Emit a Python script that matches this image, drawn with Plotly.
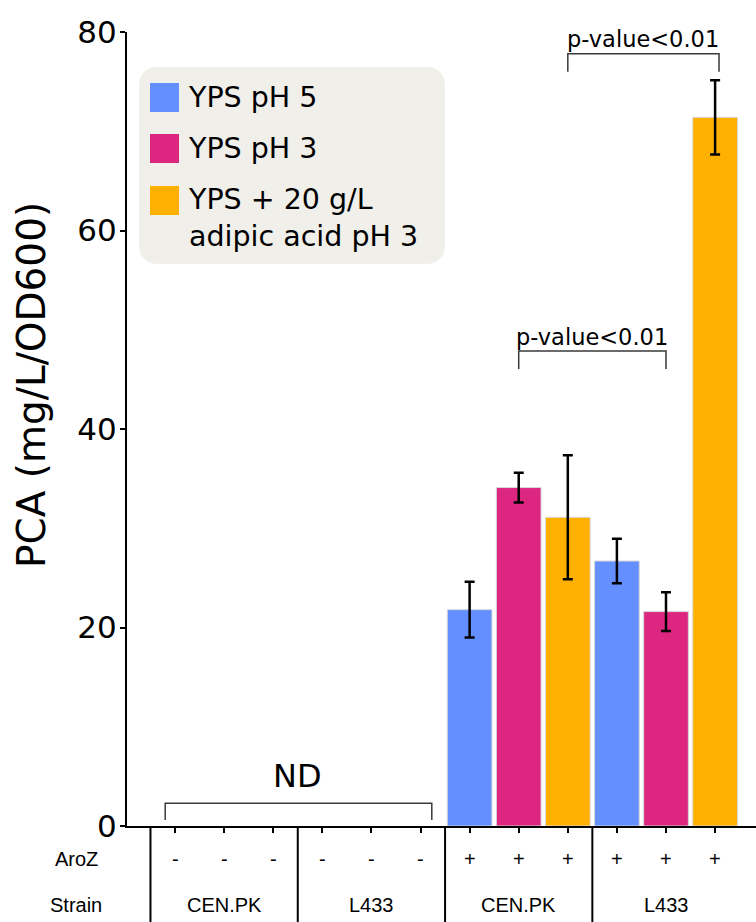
import plotly.graph_objects as go

# ---- data ----
strains = ["CEN.PK", "L433", "CEN.PK", "L433"]
aroz = ["-", "-", "+", "+"]
conditions = ["YPS pH 5", "YPS pH 3", "YPS + 20 g/L adipic acid pH 3"]
legend_labels = ["YPS pH 5", "YPS pH 3", "YPS + 20 g/L<br>adipic acid pH 3"]
colors = ["#648FFF", "#DC267F", "#FFB000"]
# mean PCA per strain group (None = not detected)
pca_ph5 = [None, None, 21.8, 26.7]
pca_ph3 = [None, None, 34.1, 21.6]
pca_adipic = [None, None, 31.1, 71.4]
err_ph5 = [0, 0, 2.8, 2.25]
err_ph3 = [0, 0, 1.5, 1.95]
err_adipic = [0, 0, 6.25, 3.75]
yticks = [0, 20, 40, 60, 80]
y_title = "PCA (mg/L/OD600)"

means = [pca_ph5, pca_ph3, pca_adipic]
errs = [err_ph5, err_ph3, err_adipic]
n_cond = len(conditions)
n_groups = len(strains)

# ---- layout geometry (pixels) ----
W, H = 756, 922
L, T, B, R = 127, 32, 96, 0
PW, PH = W - L - R, H - T - B
X0, X1 = -0.978, 11.833


def px(x):
    return (x - L) / PW


def py(y):
    return (H - B - y) / PH


fig = go.Figure()
for ci in range(n_cond):
    xs = [g * n_cond + ci for g in range(n_groups)]
    fig.add_trace(go.Bar(
        x=xs, y=means[ci], name=conditions[ci], width=0.91,
        marker=dict(color=colors[ci], line=dict(color="rgba(215,215,215,1)", width=1)),
        error_y=dict(type="data", array=errs[ci], color="black", thickness=2.5, width=5),
        showlegend=False,
    ))

shapes = []
annotations = []

# bottom table separators
for g in range(n_groups):
    xv = g * n_cond - 0.5
    shapes.append(dict(type="line", xref="x", yref="paper", x0=xv, x1=xv,
                       y0=0, y1=py(H), line=dict(color="black", width=2)))

tfont = dict(family="Liberation Sans, Arial", size=20, color="black")
annotations.append(dict(xref="paper", yref="paper", x=px(76), y=py(859), text="AroZ",
                        showarrow=False, font=tfont, xanchor="center", yanchor="middle"))
annotations.append(dict(xref="paper", yref="paper", x=px(76), y=py(905), text="Strain",
                        showarrow=False, font=tfont, xanchor="center", yanchor="middle"))
for g in range(n_groups):
    for ci in range(n_cond):
        annotations.append(dict(xref="x", yref="paper", x=g * n_cond + ci, y=py(859),
                                text=aroz[g], showarrow=False, font=tfont,
                                xanchor="center", yanchor="middle"))
    annotations.append(dict(xref="x", yref="paper", x=g * n_cond + 1, y=py(905),
                            text=strains[g], showarrow=False, font=tfont,
                            xanchor="center", yanchor="middle"))

# brackets
bcol = "#3a3a3a"


def bracket(xa, xb, ylo, yhi):
    shapes.append(dict(type="path", xref="x", yref="y",
                       path=f"M {xa},{ylo} L {xa},{yhi} L {xb},{yhi} L {xb},{ylo}",
                       line=dict(color=bcol, width=1.5)))


bracket(-0.2, 5.23, 0.6, 2.3)
annotations.append(dict(xref="x", yref="y", x=2.5, y=5.0, text="ND", showarrow=False,
                        font=dict(family="DejaVu Sans", size=32, color="black"),
                        xanchor="center", yanchor="middle"))
bracket(7, 10, 46.05, 47.86)
annotations.append(dict(xref="x", yref="y", x=8.5, y=49.3, text="p-value<0.01", showarrow=False,
                        font=dict(family="DejaVu Sans", size=22.5, color="black"),
                        xanchor="center", yanchor="middle"))
bracket(8, 11.08, 76.0, 77.8)
annotations.append(dict(xref="x", yref="y", x=9.54, y=79.3, text="p-value<0.01", showarrow=False,
                        font=dict(family="DejaVu Sans", size=22.5, color="black"),
                        xanchor="center", yanchor="middle"))

# y-axis title
annotations.append(dict(xref="paper", yref="paper", x=px(31), y=py(385), text=y_title,
                        textangle=-90, showarrow=False,
                        font=dict(family="DejaVu Sans", size=39, color="black"),
                        xanchor="center", yanchor="middle"))

# legend box (rounded)
bx0, bx1, by0, by1, r = 139, 445, 67, 264, 20
ax0, ax1 = px(bx0), px(bx1)
ay0, ay1 = py(by1), py(by0)
rx, ry = r / PW, r / PH
path = (f"M {ax0+rx},{ay0} L {ax1-rx},{ay0} Q {ax1},{ay0} {ax1},{ay0+ry} "
        f"L {ax1},{ay1-ry} Q {ax1},{ay1} {ax1-rx},{ay1} "
        f"L {ax0+rx},{ay1} Q {ax0},{ay1} {ax0},{ay1-ry} "
        f"L {ax0},{ay0+ry} Q {ax0},{ay0} {ax0+rx},{ay0} Z")
shapes.append(dict(type="path", xref="paper", yref="paper", path=path,
                   fillcolor="#F0EFEA", line=dict(width=0), layer="above"))
sw_tops = [83, 134, 186]
text_y = [97.5, 149, 218.5]
for ci in range(n_cond):
    shapes.append(dict(type="rect", xref="paper", yref="paper",
                       x0=px(150), x1=px(179), y0=py(sw_tops[ci] + 29), y1=py(sw_tops[ci]),
                       fillcolor=colors[ci], line=dict(width=0), layer="above"))
    annotations.append(dict(xref="paper", yref="paper", x=px(186), y=py(text_y[ci]),
                            text=legend_labels[ci], showarrow=False, align="left",
                            font=dict(family="DejaVu Sans", size=28.5, color="black"),
                            xanchor="left", yanchor="middle"))

fig.update_layout(
    width=W, height=H,
    margin=dict(l=L, r=R, t=T, b=B, autoexpand=False),
    paper_bgcolor="white", plot_bgcolor="white",
    barmode="overlay",
    shapes=shapes, annotations=annotations,
    xaxis=dict(range=[X0, X1], showgrid=False, zeroline=False, showline=True,
               linecolor="black", linewidth=2, ticks="outside", ticklen=5, tickwidth=1.5,
               tickcolor="black", tickvals=list(range(n_groups * n_cond)),
               showticklabels=False),
    yaxis=dict(range=[0, 80], showgrid=False, zeroline=False, showline=True,
               linecolor="black", linewidth=2, ticks="outside", ticklen=5, tickwidth=1.5,
               tickcolor="black", tickvals=yticks, ticklabelstandoff=-3,
               tickfont=dict(family="DejaVu Sans", size=31, color="black")),
    font=dict(family="DejaVu Sans", color="black"),
)

fig.write_html("out.html")
